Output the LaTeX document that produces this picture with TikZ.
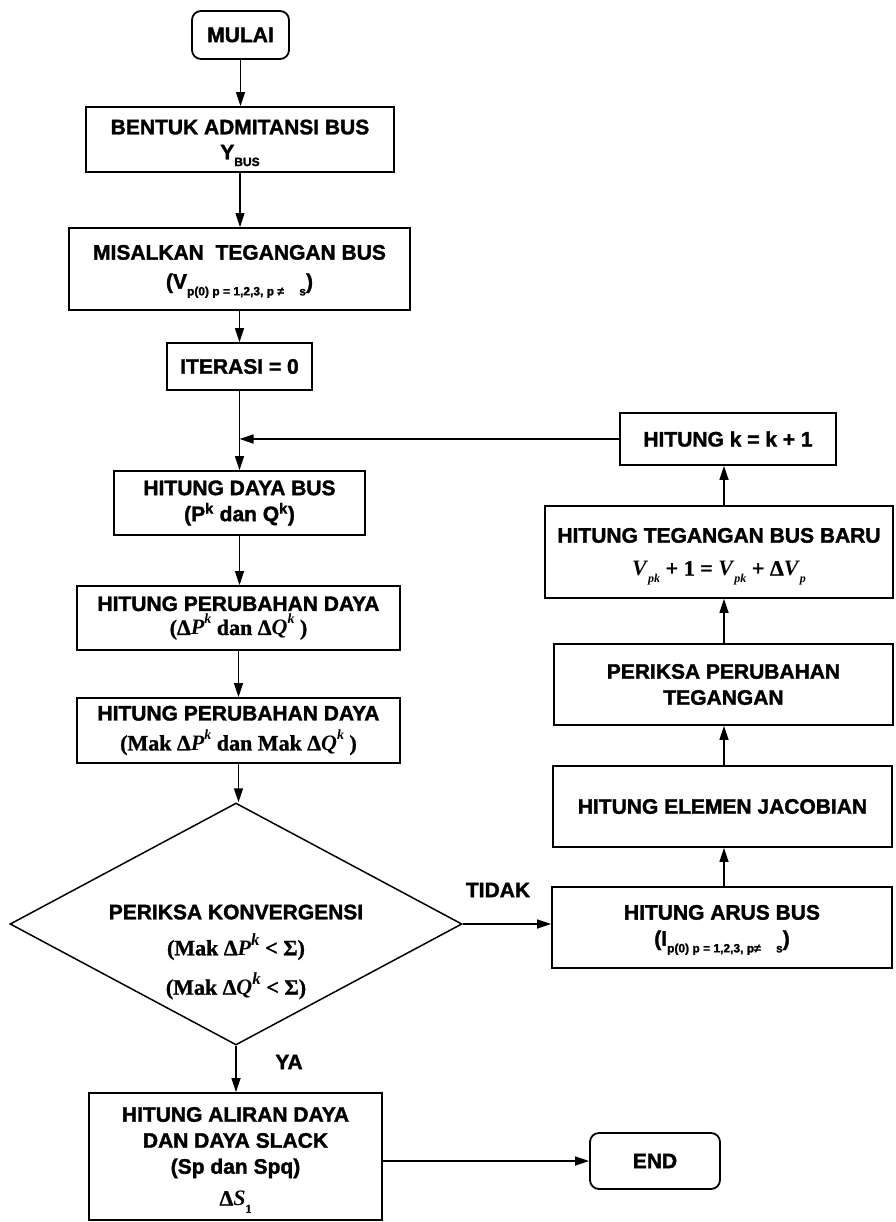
\documentclass[tikz,border=0pt]{standalone}
\usepackage{fontspec}
\setmainfont{Liberation Serif}[BoldFeatures={RawFeature={embolden=1.2}}]
\newfontfamily\hv{Liberation Sans}[BoldFeatures={RawFeature={embolden=1.6}}]
\usetikzlibrary{arrows.meta,shapes.geometric}

% small lowered index text (no effect on line depth)
\newcommand\lowidx[1]{\raisebox{-0.32em}[0pt][0pt]{\fontsize{12}{12}\selectfont #1}}
% serif bold formula text
\newcommand\frm[1]{{\rmfamily\bfseries\fontsize{22}{26}\selectfont #1}}
% raised italic exponent
\newcommand\kexp{\raisebox{0.5em}{\fontsize{14}{14}\selectfont\itshape k}}
\newcommand\kexpbig{\raisebox{0.45em}{\fontsize{17}{17}\selectfont\itshape k}}

\begin{document}
\begin{tikzpicture}[x=1pt,y=-1pt,
  box/.style={draw, line width=1.8pt, inner sep=0pt, align=center,
    font=\hv\bfseries\fontsize{21}{26}\selectfont},
  term/.style={box, rounded corners=9pt},
  link/.style={line width=1.5pt, -{Triangle[length=14pt,width=9pt]}},
  lbl/.style={font=\hv\bfseries\fontsize{21}{26}\selectfont, inner sep=0pt}]
\useasboundingbox (0,0) rectangle (895,1222);

% main column
\node[term, minimum width=97, minimum height=48] (start) at (240.5,35) {MULAI};
\node[box, minimum width=308, minimum height=65] (ybus) at (240,139.5)
  {BENTUK ADMITANSI BUS\\[-1pt]Y\lowidx{BUS}};
\node[box, minimum width=341, minimum height=82] (vinit) at (239.5,269)
  {MISALKAN\ \ TEGANGAN BUS\\[3pt](V\lowidx{p(0) p = 1,2,3, p ≠ \quad s})};
\node[box, minimum width=145, minimum height=47] (iter) at (239.5,366.5) {ITERASI = 0};
\node[box, minimum width=251, minimum height=64] (power) at (239.5,503)
  {HITUNG DAYA BUS\\(P\textsuperscript{k} dan Q\textsuperscript{k})};
\node[box, minimum width=323, minimum height=64] (dpow) at (238.5,618)
  {HITUNG PERUBAHAN DAYA\\[-2pt]\frm{(Δ\textit{P}\kexp{} dan Δ\textit{Q}\kexp{} )}};
\node[box, minimum width=323, minimum height=65] (maxd) at (238.5,730.5)
  {HITUNG PERUBAHAN DAYA\\[4pt]\frm{(Mak Δ\textit{P}\kexp{} dan Mak Δ\textit{Q}\kexp{} )}};

% convergence test
\node[draw, diamond, line width=1.5pt, inner sep=0pt,
  minimum width=452, minimum height=242] (conv) at (236,924) {};
\node[align=center, inner sep=0pt, font=\hv\bfseries\fontsize{21}{26}\selectfont]
  (convtxt) at (236,952)
  {PERIKSA KONVERGENSI\\[10pt]\frm{(Mak Δ\textit{P}\kexpbig{} < Σ)}\\[12pt]\frm{(Mak Δ\textit{Q}\kexpbig{} < Σ)}};

\node[box, minimum width=293, minimum height=127] (flow) at (235.5,1156.5)
  {HITUNG ALIRAN DAYA\\DAN DAYA SLACK\\(Sp dan Spq)\\[6pt]\frm{Δ\textit{S}\lowidx{\upshape 1}}};
\node[term, minimum width=130, minimum height=56] (stop) at (655,1161) {END};

% iteration column
\coordinate (rc) at (724,0);
\node[box, minimum width=340, minimum height=81] (cur) at (722,927.5)
  {HITUNG ARUS BUS\\(I\lowidx{p(0) p = 1,2,3, p≠ \quad s})};
\node[box, minimum width=339, minimum height=81] (jac) at (722.5,806.5)
  {HITUNG ELEMEN JACOBIAN};
\node[box, minimum width=339, minimum height=81] (dv) at (723.5,684.5)
  {PERIKSA PERUBAHAN\\TEGANGAN};
\node[box, minimum width=348, minimum height=92] (vnew) at (719,552)
  {HITUNG TEGANGAN BUS BARU\\[7pt]\frm{\textit{V}\lowidx{\itshape pk} + 1 = \textit{V}\lowidx{\itshape pk} + Δ\textit{V}\lowidx{\itshape p}}};
\node[box, minimum width=216, minimum height=52] (inc) at (728,439) {HITUNG k = k + 1};

% connectors
\draw[link] (start.south) -- (start.south |- ybus.north);
\draw[link] (ybus.south) -- (ybus.south |- vinit.north);
\draw[link] (vinit.south) -- (vinit.south |- iter.north);
\draw[link] (iter.south) -- (iter.south |- power.north);
\draw[link] (power.south) -- (power.south |- dpow.north);
\draw[link] (dpow.south) -- (dpow.south |- maxd.north);
\draw[link] (maxd.south) -- (maxd.south |- conv.north);
\draw[link] (conv.south) -- (conv.south |- flow.north);
\draw[link] (conv.east) -- (conv.east -| cur.west);
\draw[link] (stop.west -| flow.east) -- (stop.west);
\draw[link] (cur.north -| rc) -- (jac.south -| rc);
\draw[link] (jac.north -| rc) -- (dv.south -| rc);
\draw[link] (dv.north -| rc) -- (vnew.south -| rc);
\draw[link] (vnew.north -| rc) -- (inc.south -| rc);
\draw[link] (inc.west) -- (inc.west -| iter.south);

% branch labels
\node[lbl] (no) at (498,890) {TIDAK};
\node[lbl] (yes) at (289,1062) {YA};
\end{tikzpicture}
\end{document}
